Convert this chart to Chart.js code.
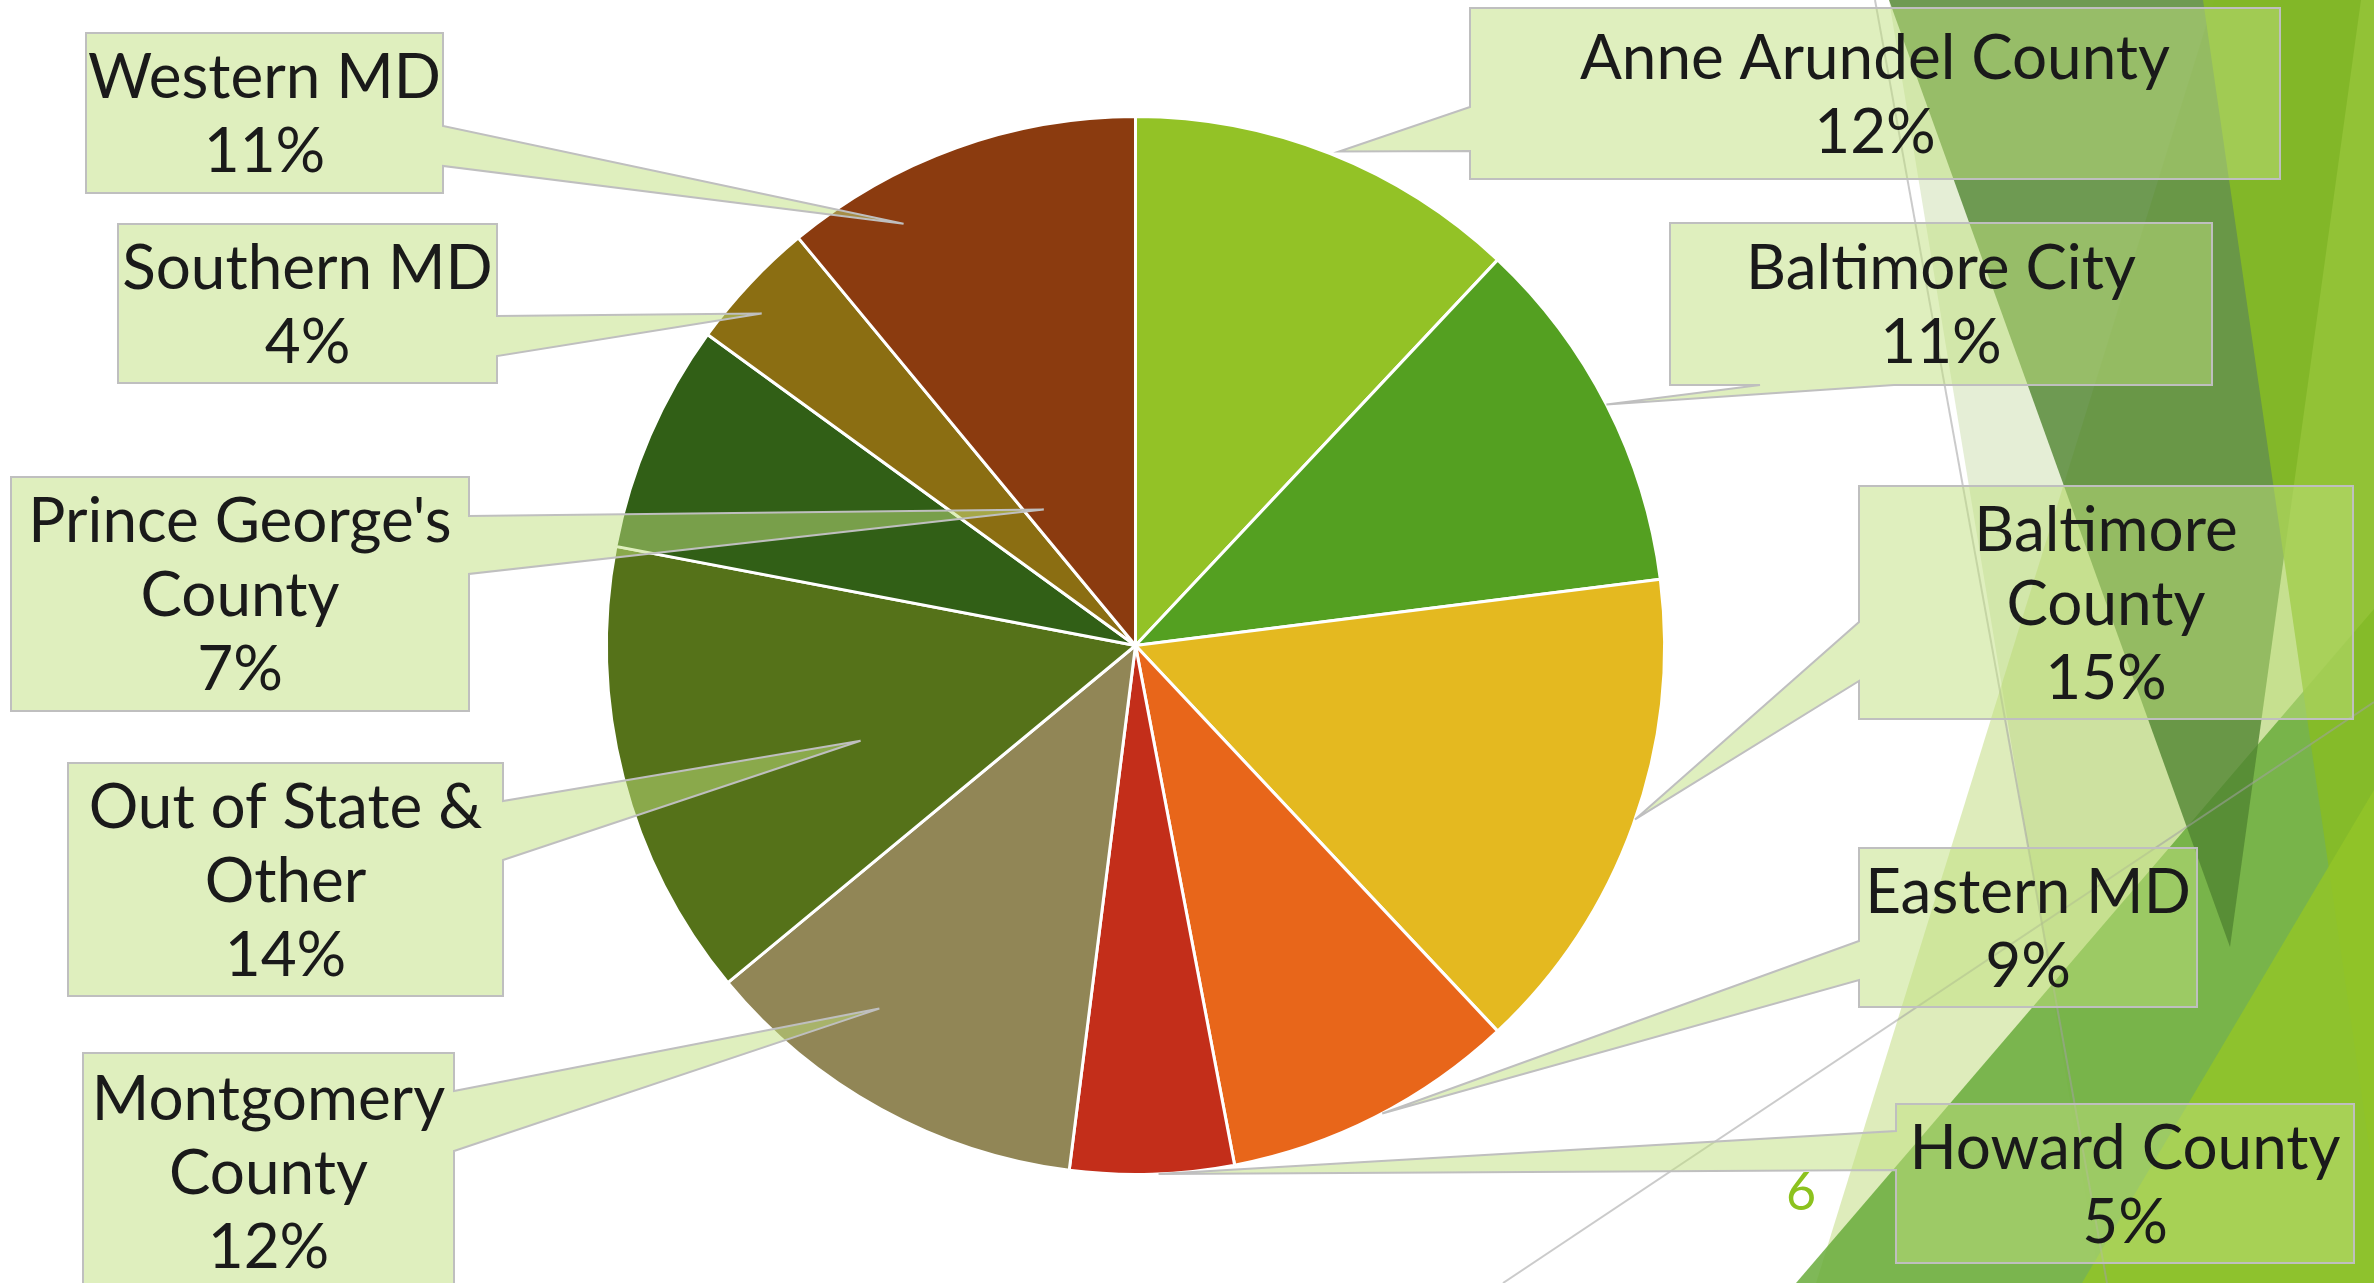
<!DOCTYPE html>
<html>
<head>
<meta charset="utf-8">
<script src="https://cdn.jsdelivr.net/npm/chart.js@4.4.1/dist/chart.umd.min.js"></script>
<style>
  html, body { margin: 0; padding: 0; background: #ffffff; }
  #wrap { width: 2374px; height: 1283px; position: relative; overflow: hidden; }
</style>
</head>
<body>
<div id="wrap"><canvas id="pieChart" width="2374" height="1283"></canvas></div>
<script>
(() => {
  'use strict'

  // Share of students by home region (percent)
  const regions = ['Anne Arundel County', 'Baltimore City', 'Baltimore County', 'Eastern MD', 'Howard County',
    'Montgomery County', 'Out of State & Other', "Prince George's County", 'Southern MD', 'Western MD'];
  const shares = [12, 11, 15, 9, 5, 12, 14, 7, 4, 11];
  const labelLines = [
    ['Anne Arundel County'], ['Baltimore City'], ['Baltimore', 'County'], ['Eastern MD'], ['Howard County'],
    ['Montgomery', 'County'], ['Out of State &', 'Other'], ["Prince George's", 'County'], ['Southern MD'], ['Western MD']
  ];

  const sliceColors = ['#93c226', '#54a021', '#e4b920', '#e8661a', '#c32e1a',
    '#918656', '#557219', '#315f16', '#8b6e12', '#8b3b0f'];

  // Callout boxes: box rect, side the pointer leaves from, pointer base span,
  // and where the pointer ends (angle from 12 o'clock, fraction of radius)
  const callouts = [
    { x: 1470, y: 8, w: 810, h: 171, side: 'left', a: 107, b: 151, ang: 22.4, r: 1.01 },
    { x: 1670, y: 223, w: 542, h: 162, side: 'bottom', a: 1760, b: 1894, ang: 62.9, r: 1.0 },
    { x: 1859, y: 486, w: 494, h: 233, side: 'left', a: 622, b: 681, ang: 109.2, r: 1.0 },
    { x: 1859, y: 848, w: 338, h: 159, side: 'left', a: 941, b: 980, ang: 152.2, r: 1.0 },
    { x: 1896, y: 1104, w: 458, h: 159, side: 'left', a: 1131, b: 1170, ang: 177.5, r: 1.0 },
    { x: 83, y: 1053, w: 371, h: 238, side: 'right', a: 1091, b: 1151, ang: 215.2, r: 0.84 },
    { x: 68, y: 763, w: 435, h: 233, side: 'right', a: 801, b: 860, ang: 250.9, r: 0.55 },
    { x: 11, y: 477, w: 458, h: 234, side: 'right', a: 516, b: 574, ang: 326, r: 0.31 },
    { x: 118, y: 224, w: 379, h: 159, side: 'right', a: 316, b: 356, ang: 311.6, r: 0.945 },
    { x: 86, y: 33, w: 357, h: 160, side: 'right', a: 126, b: 166, ang: 331.2, r: 0.91 }
  ];

  // Slide decoration: translucent facets along the right edge
  const facets = [
    { pts: [[1889, 0], [2374, 0], [2374, 1283], [2100, 1283]], fill: 'rgba(170,200,120,0.3)' },
    { pts: [[2214, 0], [2374, 0], [2374, 1283], [1816, 1283]], fill: 'rgba(160,200,60,0.35)' },
    { pts: [[1796, 1283], [2374, 609], [2374, 1283]], fill: 'rgba(105,172,59,0.85)' },
    { pts: [[1889, 0], [2361, 0], [2230, 947]], fill: 'rgba(80,133,49,0.8)' },
    { pts: [[2203, 0], [2374, 0], [2374, 1180]], fill: 'rgba(135,188,35,0.85)' },
    { pts: [[2082, 1283], [2374, 790], [2374, 1283]], fill: 'rgba(146,196,40,0.85)' }
  ];
  const hairlines = [
    [[1875, 0], [2107, 1283]],
    [[1503, 1283], [2374, 702]]
  ];

  const FONT = 'Lato, "Open Sans", sans-serif';

  const slideBackground = {
    id: 'slideBackground',
    beforeDraw(chart) {
      const c = chart.ctx;
      c.save();
      c.fillStyle = '#ffffff';
      c.fillRect(0, 0, chart.width, chart.height);
      facets.forEach(f => {
        c.beginPath();
        f.pts.forEach(([px, py], i) => (i ? c.lineTo(px, py) : c.moveTo(px, py)));
        c.closePath();
        c.fillStyle = f.fill;
        c.fill();
      });
      c.strokeStyle = 'rgba(160,160,160,0.55)';
      c.lineWidth = 2;
      hairlines.forEach(([p, q]) => {
        c.beginPath();
        c.moveTo(p[0], p[1]);
        c.lineTo(q[0], q[1]);
        c.stroke();
      });
      // slide number
      c.fillStyle = '#8cc21e';
      c.font = '52px ' + FONT;
      c.textAlign = 'left';
      c.textBaseline = 'alphabetic';
      c.fillText('6', 1786, 1210);
      c.restore();
    }
  };

  const calloutLabels = {
    id: 'calloutLabels',
    afterDatasetsDraw(chart) {
      const c = chart.ctx;
      const arc = chart.getDatasetMeta(0).data[0];
      const cx = arc.x, cy = arc.y, R = arc.outerRadius;
      c.save();
      callouts.forEach((b, i) => {
        const t = b.ang * Math.PI / 180;
        const tx = cx + Math.sin(t) * R * b.r;
        const ty = cy - Math.cos(t) * R * b.r;
        const x1 = b.x + b.w, y1 = b.y + b.h;
        c.beginPath();
        c.moveTo(b.x, b.y);
        c.lineTo(x1, b.y);
        if (b.side === 'right') {
          c.lineTo(x1, b.a); c.lineTo(tx, ty); c.lineTo(x1, b.b);
        }
        c.lineTo(x1, y1);
        if (b.side === 'bottom') {
          c.lineTo(b.b, y1); c.lineTo(tx, ty); c.lineTo(b.a, y1);
        }
        c.lineTo(b.x, y1);
        if (b.side === 'left') {
          c.lineTo(b.x, b.b); c.lineTo(tx, ty); c.lineTo(b.x, b.a);
        }
        c.closePath();
        c.fillStyle = 'rgba(191,223,125,0.5)';
        c.fill();
        c.strokeStyle = '#bfbfbf';
        c.lineWidth = 2;
        c.stroke();

        const lines = labelLines[i].concat([shares[i] + '%']);
        c.fillStyle = '#1a1a1a';
        c.font = '62px ' + FONT;
        c.textAlign = 'center';
        c.textBaseline = 'alphabetic';
        const midY = b.y + b.h / 2;
        lines.forEach((s, k) => {
          c.fillText(s, b.x + b.w / 2, midY + (k - (lines.length - 1) / 2) * 74 + 22);
        });
      });
      c.restore();
    }
  };

  const ctx = document.getElementById('pieChart').getContext('2d');
  new Chart(ctx, {
    type: 'pie',
    data: {
      labels: regions,
      datasets: [{
        data: shares,
        backgroundColor: sliceColors,
        borderColor: '#ffffff',
        borderWidth: 3,
        hoverOffset: 0
      }]
    },
    options: {
      responsive: false,
      animation: false,
      layout: { padding: { left: 605, top: 115, right: 708, bottom: 107 } },
      plugins: {
        legend: { display: false },
        tooltip: { enabled: false }
      }
    },
    plugins: [slideBackground, calloutLabels]
  });
})()
</script>
</body>
</html>
